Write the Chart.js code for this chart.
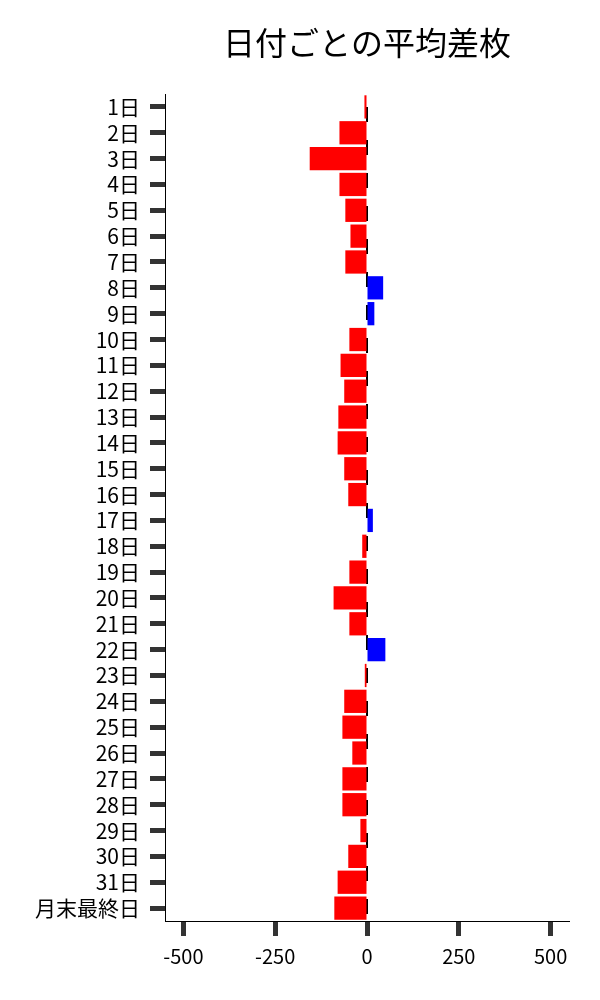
<!DOCTYPE html>
<html>
<head>
<meta charset="utf-8" />
<script src="https://cdn.jsdelivr.net/npm/chart.js@4"></script>
<style>
  body { margin: 0; background: #fff; }
  #wrap { width: 600px; height: 1000px; }
</style>
</head>
<body>
<div id="wrap"><canvas id="myChart" width="600" height="1000"></canvas></div>
<script>
const chartTitle = "日付ごとの平均差枚";

const dayLabels = [
  "1日", "2日", "3日", "4日", "5日", "6日", "7日", "8日",
  "9日", "10日", "11日", "12日", "13日", "14日", "15日", "16日",
  "17日", "18日", "19日", "20日", "21日", "22日", "23日", "24日",
  "25日", "26日", "27日", "28日", "29日", "30日", "31日", "月末最終日",
];

const avgDiff = [
  -7, -75, -156, -75, -59, -45, -59, 44,
  20, -48, -72, -62, -78, -80, -62, -51,
  16, -13, -48, -91, -48, 50, -6, -62,
  -67, -40, -67, -67, -18, -51, -80, -89,
];

const xTickValues = [-500, -250, 0, 250, 500];
const xMin = -550;
const xMax = 550;

const FONT = "'Noto Sans CJK JP', 'Noto Sans', sans-serif";

const barColors = avgDiff.map((v) => (v < 0 ? "#ff0000" : "#0000ff"));

// dashed line at zero, drawn under the bars
const zeroLine = {
  id: "zeroLine",
  beforeDatasetsDraw: (chart) => {
    const { ctx, chartArea, scales } = chart;
    const x = scales.x.getPixelForValue(0);
    ctx.save();
    ctx.strokeStyle = "#000";
    ctx.lineWidth = 2;
    ctx.setLineDash([15, 18]);
    ctx.lineDashOffset = 20;
    ctx.beginPath();
    ctx.moveTo(x, chartArea.top);
    ctx.lineTo(x, chartArea.bottom);
    ctx.stroke();
    ctx.restore();
  },
};

// title centred over the plot area, not the canvas
const plotTitle = {
  id: "plotTitle",
  afterDraw: (chart) => {
    const { ctx, chartArea } = chart;
    ctx.save();
    ctx.fillStyle = "#000";
    ctx.font = "32px " + FONT;
    ctx.textAlign = "center";
    ctx.textBaseline = "middle";
    ctx.fillText(chartTitle, (chartArea.left + chartArea.right) / 2, 43);
    ctx.restore();
  },
};

const config = {
  type: "bar",
  data: {
    labels: dayLabels,
    datasets: [
      {
        label: chartTitle,
        data: avgDiff,
        backgroundColor: barColors,
        borderWidth: 0,
        barPercentage: 0.9,
        categoryPercentage: 1,
      },
    ],
  },
  options: {
    indexAxis: "y",
    responsive: false,
    animation: false,
    layout: {
      padding: { top: 94, right: 31, bottom: 0, left: 0 },
    },
    plugins: {
      legend: { display: false },
      tooltip: { enabled: false },
      title: { display: false },
    },
    scales: {
      x: {
        min: xMin,
        max: xMax,
        afterBuildTicks: (scale) => {
          scale.ticks = xTickValues.map((v) => ({ value: v }));
        },
        afterFit: (scale) => {
          scale.height = 79;
        },
        grid: {
          drawOnChartArea: false,
          drawTicks: true,
          tickLength: 15,
          tickWidth: 5,
          tickColor: "#333",
        },
        border: { display: true, color: "#000", width: 1 },
        ticks: {
          color: "#000",
          padding: 8,
          font: { family: FONT, size: 20 },
        },
      },
      y: {
        afterFit: (scale) => {
          scale.width = 165;
        },
        grid: {
          offset: false,
          drawOnChartArea: false,
          drawTicks: true,
          tickLength: 15,
          tickWidth: 5,
          tickColor: "#333",
        },
        border: { display: true, color: "#000", width: 1 },
        ticks: {
          color: "#000",
          padding: 10,
          autoSkip: false,
          font: { family: FONT, size: 21 },
        },
      },
    },
  },
  plugins: [zeroLine, plotTitle],
};

new Chart(document.getElementById("myChart"), config);
</script>
</body>
</html>
